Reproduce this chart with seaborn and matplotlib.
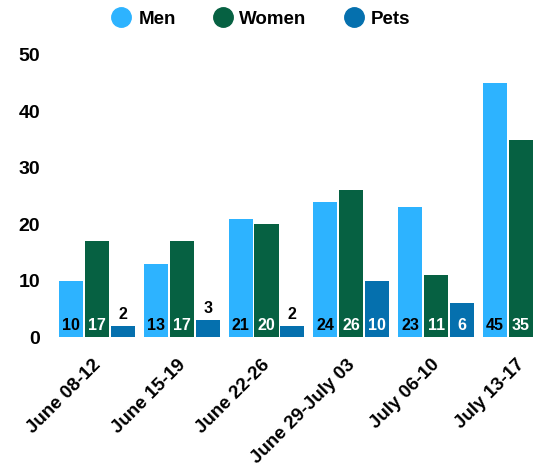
import matplotlib
matplotlib.use("Agg")
import matplotlib.pyplot as plt
import matplotlib.transforms as mtransforms
from matplotlib.lines import Line2D
import seaborn as sns
import pandas as pd

weeks = ["June 08-12", "June 15-19", "June 22-26", "June 29-July 03", "July 06-10", "July 13-17"]
men = [10, 13, 21, 24, 23, 45]
women = [17, 17, 20, 26, 11, 35]
pets = [2, 3, 2, 10, 6, None]
series = ["Men", "Women", "Pets"]
colors = {"Men": "#2DB3FF", "Women": "#066142", "Pets": "#0570AE"}
label_colors = {"Men": "black", "Women": "white", "Pets": "white"}

rows = []
for name, vals in zip(series, [men, women, pets]):
    for w, v in zip(weeks, vals):
        if v is not None:
            rows.append({"week": w, "group": name, "value": v})
df = pd.DataFrame(rows)

sns.set_theme(style="white")
plt.rcParams["font.family"] = ["Liberation Sans", "DejaVu Sans"]
plt.rcParams["font.weight"] = "bold"
plt.rcParams["text.color"] = "black"
plt.rcParams["xtick.color"] = "black"
plt.rcParams["ytick.color"] = "black"

fig = plt.figure(figsize=(5.6, 4.75), dpi=100)
ax = fig.add_axes([54.5 / 560, 138 / 475, 508.8 / 560, 282 / 475])

sns.barplot(data=df, x="week", y="value", hue="group", order=weeks, hue_order=series,
            palette=colors, saturation=1, width=0.916, gap=0.07, linewidth=0, ax=ax,
            legend=False, errorbar=None)

ax.set_ylim(0, 50)
ax.set_xlim(-0.5, 5.5)
ax.set_yticks([0, 10, 20, 30, 40, 50])
for s in ax.spines.values():
    s.set_visible(False)
ax.grid(False)
ax.set_xlabel("")
ax.set_ylabel("")
ax.tick_params(axis="y", length=0, pad=10.5, labelsize=14, labelcolor="black")
ax.tick_params(axis="x", length=0, pad=14, labelsize=13.5, labelcolor="black")
for lab in ax.get_yticklabels():
    lab.set_fontweight("bold")
ax.set_xticks(range(len(weeks)))
ax.set_xticklabels(weeks, rotation=45, ha="right", rotation_mode="anchor", fontweight="bold")
offset = mtransforms.ScaledTranslation(-5 / 100, 0, fig.dpi_scale_trans)
for lab in ax.get_xticklabels():
    lab.set_transform(lab.get_transform() + offset)

for name, cont in zip(series, ax.containers):
    for bar in cont:
        h = bar.get_height()
        if h is None or h != h or h == 0:
            continue
        cx = bar.get_x() + bar.get_width() / 2
        txt = f"{int(round(h))}"
        if h >= 5:
            ax.text(cx, 0.7, txt, ha="center", va="bottom", color=label_colors[name],
                    fontsize=11.5, fontweight="bold")
        else:
            ax.text(cx, h + 0.65, txt, ha="center", va="bottom", color="black",
                    fontsize=11.5, fontweight="bold")

handles = [Line2D([0], [0], marker="o", linestyle="", markersize=14,
                  markerfacecolor=colors[s], markeredgecolor=colors[s]) for s in series]
fig.legend(handles, series, loc="center", bbox_to_anchor=(261 / 560, 1 - 19 / 475), ncol=3,
           frameon=False, prop={"size": 13.5, "weight": "bold"}, handletextpad=0.4,
           columnspacing=2.0, handlelength=1.0)

fig.savefig("out.png", dpi=100)
